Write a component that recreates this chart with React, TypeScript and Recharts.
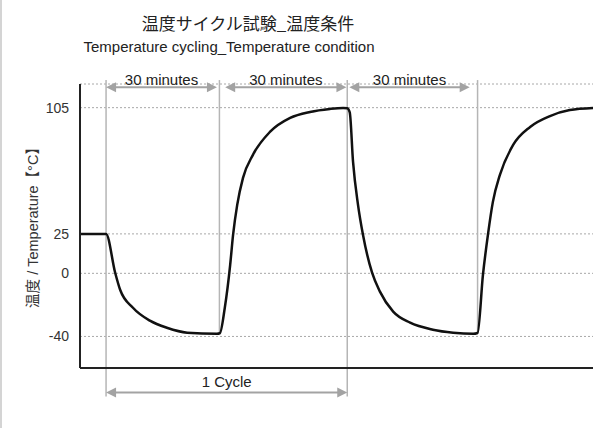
import React from 'react'
import {
  LineChart,
  Line,
  XAxis,
  YAxis,
  CartesianGrid,
  ReferenceLine,
} from 'recharts'

// elapsed time (minutes) and chamber temperature (°C)
const minutes = [
  0, 6.3, 8.5, 9.7, 12.8, 16.9, 21.0, 25.9, 33.1, 33.8, 35.0, 36.3, 37.0, 38.0,
  39.4, 41.8, 45.9, 50.8, 55.6, 60.4, 63.6, 64.6, 65.2, 66.0, 67.2, 68.4, 70.6,
  72.5, 75.7, 79.8, 85.3, 90.2, 95.0, 96.1, 97.4, 98.6, 99.8, 101.5, 104.7,
  108.8, 113.6, 118.4, 124,
]
const temperature = [
  25, 25, 0.4, -10.4, -21.8, -30, -34.5, -37.6, -38.3, -38, -21.8, 5.4, 24.4,
  43.4, 60.5, 75.1, 89.6, 98.5, 102.3, 104.2, 104.8, 104.6, 102, 70.6, 43.4,
  24.4, 0.4, -11.6, -24.3, -31.3, -35.7, -37.6, -38.3, -37.8, -0.9, 24.4, 45.3,
  62.4, 81.4, 92.8, 99.7, 103.5, 104.8,
]

const yTicks = [105, 25, 0, -40]

// phase boundaries (minutes)
const boundaries = [6.3, 33.7, 64.6, 96.1]
const boundaryBottom = [-78, -38, -78, -38]
const boundaryTop = 122.5

// "30 minutes" spans
const spanStart = [6.3, 35.1, 65.1]
const spanEnd = [33.1, 64.4, 94.2]
const spanLabel = '30 minutes'
const spanLevel = 117.9

const cycleStart = 6.3
const cycleEnd = 64.6
const cycleLevel = -75.6
const cycleLabel = '1 Cycle'

const data = minutes.map((t, i) => ({ t, temp: temperature[i] }))

const FONT = "'Liberation Sans', Arial, 'Noto Sans CJK JP', sans-serif"
const GREY = '#a3a3a3'

const Arrow = (props: any) => {
  const { x1, y1, x2, text, gap } = props
  const head = 10
  const half = 5
  return (
    <g>
      <line x1={x1 + head - 2} y1={y1} x2={x2 - head + 2} y2={y1} stroke={GREY} strokeWidth={2} />
      <polygon points={`${x1},${y1} ${x1 + head},${y1 - half} ${x1 + head},${y1 + half}`} fill={GREY} />
      <polygon points={`${x2},${y1} ${x2 - head},${y1 - half} ${x2 - head},${y1 + half}`} fill={GREY} />
      <text
        x={(x1 + x2) / 2}
        y={y1 - gap}
        textAnchor="middle"
        fontSize={15}
        fontFamily={FONT}
        fill="#222"
      >
        {text}
      </text>
    </g>
  )
}

export default function App() {
  return (
    <div style={{ position: 'absolute', left: 0, top: 0, width: 611, height: 428, background: '#fff' }}>
      <div style={{ position: 'absolute', left: 0, top: 0, width: 2, height: 428, background: '#d4d4d4' }} />
      <LineChart
        width={611}
        height={428}
        data={data}
        margin={{ top: 84, right: 18, bottom: 30, left: 20 }}
      >
        <text x={248} y={30} textAnchor="middle" fontSize={17} fontFamily="'Noto Sans CJK JP', sans-serif" fill="#222">
          温度サイクル試験_温度条件
        </text>
        <text x={229} y={52} textAnchor="middle" fontSize={15} fontFamily={FONT} fill="#222">
          Temperature cycling_Temperature condition
        </text>
        <text
          x={33}
          y={224}
          textAnchor="middle"
          dominantBaseline="central"
          transform="rotate(-90 33 224)"
          fontSize={14.5}
          fontFamily={FONT}
          fill="#333"
        >
          温度 / Temperature【°C】
        </text>
        <CartesianGrid horizontal vertical={false} stroke="#a8a8a8" strokeDasharray="2 2" />
        <XAxis
          dataKey="t"
          type="number"
          domain={[0, 124]}
          tick={false}
          tickLine={false}
          height={30}
          axisLine={{ stroke: '#222', strokeWidth: 2 }}
        />
        <YAxis
          type="number"
          domain={[-60, 120]}
          ticks={yTicks}
          width={60}
          tickLine={false}
          tickMargin={5}
          axisLine={{ stroke: '#222', strokeWidth: 2 }}
          tick={{ fontSize: 14, fontFamily: FONT, fill: '#333' }}
        />
        {boundaries.map((b, i) => (
          <ReferenceLine
            key={'b' + i}
            segment={[{ x: b, y: boundaryTop }, { x: b, y: boundaryBottom[i] }]}
            stroke="#b5b5b5"
            strokeWidth={1.5}
            ifOverflow="visible"
          />
        ))}
        {spanStart.map((s, i) => (
          <ReferenceLine
            key={'s' + i}
            segment={[{ x: s, y: spanLevel }, { x: spanEnd[i], y: spanLevel }]}
            ifOverflow="visible"
            shape={(p: any) => <Arrow {...p} text={spanLabel} gap={2.5} />}
          />
        ))}
        <ReferenceLine
          segment={[{ x: cycleStart, y: cycleLevel }, { x: cycleEnd, y: cycleLevel }]}
          ifOverflow="visible"
          shape={(p: any) => <Arrow {...p} text={cycleLabel} gap={6} />}
        />
        <Line
          type="monotone"
          dataKey="temp"
          stroke="#111"
          strokeWidth={2.5}
          dot={false}
          isAnimationActive={false}
        />
      </LineChart>
    </div>
  )
}
